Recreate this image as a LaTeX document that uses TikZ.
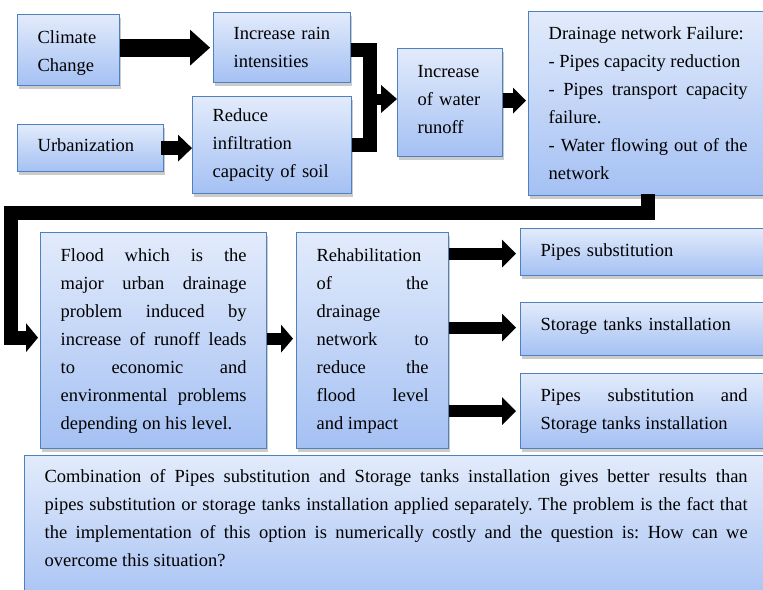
\documentclass[tikz,border=0pt]{standalone}
\usepackage{fontspec}
\setmainfont{Liberation Serif}
\usetikzlibrary{arrows.meta,shadows,calc}
\tolerance=10000 \hbadness=10000 \hfuzz=8pt
\frenchspacing
\definecolor{boxtop}{HTML}{E2EBFB}
\definecolor{boxbot}{HTML}{A4C0F3}
\definecolor{boxline}{HTML}{4F81BD}
\begin{document}
\begin{tikzpicture}[x=1pt,y=-1pt,
  box/.style={rectangle, draw=boxline, line width=1.3pt, top color=boxtop, bottom color=boxbot,
    drop shadow={shadow xshift=1.5pt, shadow yshift=-3pt, fill=black!45, opacity=0.45},
    inner xsep=20pt, inner ysep=0pt, anchor=north west,
    font=\fontsize{18.5}{28}\selectfont\frenchspacing},
  lbox/.style={box, align=left},
  jbox/.style={box, align=justify},
  conn/.style={line width=14pt, black},
  ar/.style n args={3}{line width=#1, black, -{Triangle[length=#2, width=#3, line width=0pt]}}
]
\useasboundingbox (0,0) rectangle (763,589);

% boxes
\node[lbox, text width=62pt, minimum height=71pt] (climate) at (17,14) {\rule{0pt}{18.6pt}Climate\\Change};
\node[lbox, text width=97pt, minimum height=70pt] (rain) at (213,12) {Increase rain\\intensities};
\node[lbox, text width=106pt, minimum height=47pt] (urban) at (17,124) {Urbanization\rule[-6pt]{0pt}{6pt}};
\node[lbox, text width=119pt, minimum height=97pt] (reduce) at (192,96) {Reduce\\infiltration\\capacity of soil};
\node[lbox, text width=65pt, minimum height=108pt] (runoff) at (397,48) {Increase\\of water\\runoff\rule[-6pt]{0pt}{6pt}};
\node[jbox, text width=199pt, minimum height=184pt] (drain) at (528,11)
  {Drainage network Failure:\par
   - Pipes capacity reduction\par
   - Pipes transport capacity\linebreak failure.\par
   - Water flowing out of the\linebreak network};
\node[jbox, text width=186pt, minimum height=216pt] (flood) at (40,232)
  {Flood which is the\linebreak major urban drainage\linebreak problem induced by\linebreak
   increase of runoff leads\linebreak to economic and\linebreak environmental problems\linebreak
   depending on his level.};
\node[jbox, text width=112pt, minimum height=216pt] (rehab) at (296,232)
  {Rehabilitation\linebreak of the\linebreak drainage\linebreak network to\linebreak
   reduce the\linebreak flood level\linebreak and impact};
\node[lbox, text width=207pt, minimum height=47pt] (pipes) at (520,228) {Pipes substitution};
\node[lbox, text width=207pt, minimum height=53pt] (storage) at (520,302) {Storage tanks installation\rule[-10pt]{0pt}{10pt}};
\node[jbox, text width=207pt, minimum height=75pt] (both) at (520,373)
  {Pipes substitution and\linebreak Storage tanks installation};
\node[jbox, text width=703pt, inner ysep=14pt] (combo) at (24,455)
  {Combination of Pipes substitution and Storage tanks installation gives better results than\linebreak
   pipes substitution or storage tanks installation applied separately. The problem is the fact that\linebreak
   the implementation of this option is numerically costly and the question is: How can we\linebreak
   overcome this situation?\par\rule{0pt}{30pt}};

% connectors
\coordinate (bt) at (370,49.5);
\coordinate (bb) at (370,145);
\coordinate (bm) at (370,99);
\coordinate (c1) at (11,212.5);

\draw[ar={18pt}{20pt}{36pt}] (climate.east |- rain.west) -- ([xshift=-3pt]rain.west);
\draw[ar={14pt}{14pt}{27pt}] ([xshift=-3pt]urban.east) -- (reduce.west |- urban.east);
\draw[conn] (rain.east |- bt) -- (bt) -- (bb) -- (reduce.east |- bb);
\draw[ar={11pt}{16pt}{28pt}] (bm) -- (runoff.west |- bm);
\draw[ar={15pt}{13pt}{26pt}] ([yshift=2pt]runoff.east) -- ([xshift=-2pt,yshift=2pt]drain.west |- runoff.east);
\draw[conn, -{Triangle[length=12pt, width=29pt, line width=0pt]}]
  ([yshift=2pt]drain.south) |- (c1) |- ([xshift=-2pt,yshift=3pt]flood.west);
\draw[ar={12pt}{12pt}{28pt}] ([yshift=2pt]flood.east) -- ([xshift=-3pt,yshift=2pt]rehab.west);
\draw[ar={12pt}{14pt}{28pt}] ([yshift=-1.5pt]rehab.east |- pipes.west) -- ([xshift=-4pt,yshift=-1.5pt]pipes.west);
\draw[ar={12pt}{14pt}{28pt}] ([yshift=1.5pt]rehab.east |- storage.west) -- ([xshift=-4pt,yshift=1.5pt]storage.west);
\draw[ar={12pt}{14pt}{28pt}] (rehab.east |- both.west) -- ([xshift=-4pt]both.west);
\end{tikzpicture}
\end{document}
